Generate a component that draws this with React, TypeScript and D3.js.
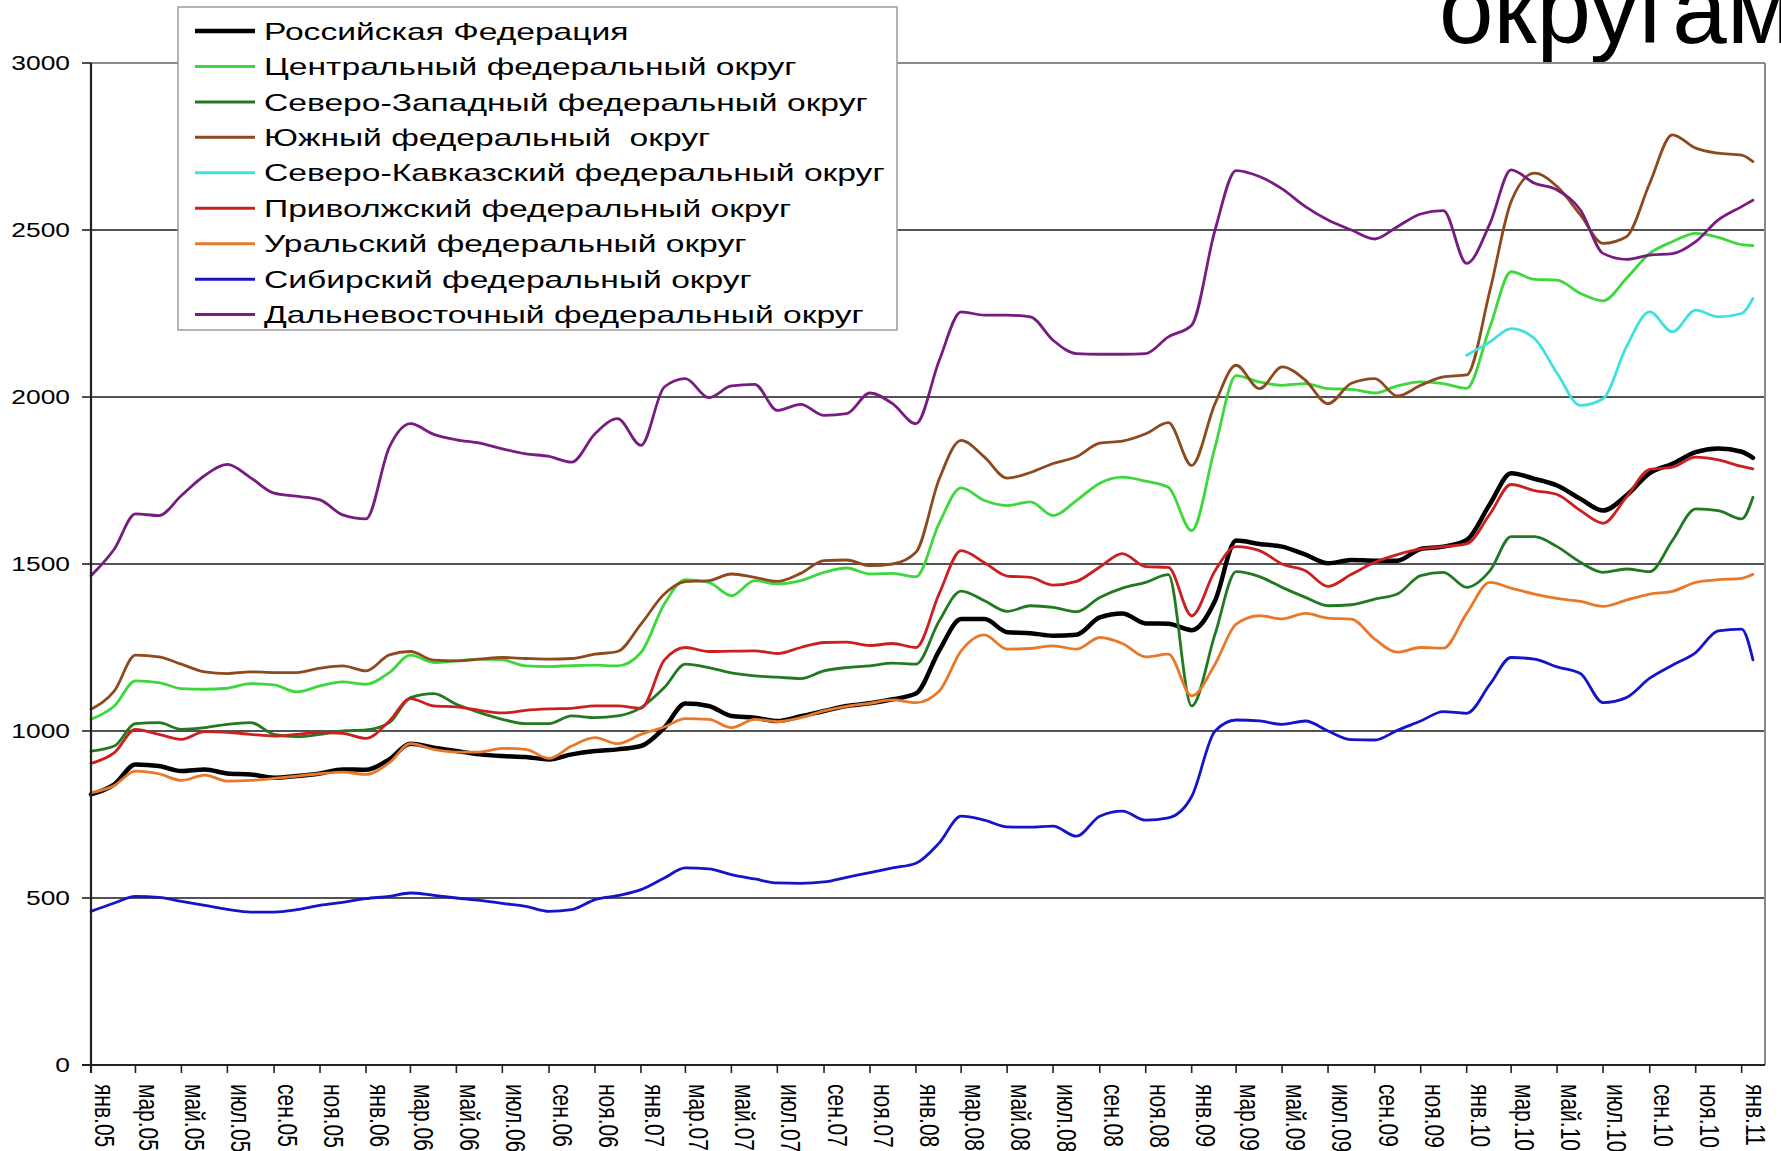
import React from 'react';
import * as d3 from 'd3';

// ---------- data ----------
const monthAbbr = ['янв', 'фев', 'мар', 'апр', 'май', 'июн', 'июл', 'авг', 'сен', 'окт', 'ноя', 'дек'];
const yTicks = [0, 500, 1000, 1500, 2000, 2500, 3000];
const titleText = 'округам';

const seriesNames = [
  'Российская Федерация',
  'Центральный федеральный округ',
  'Северо-Западный федеральный округ',
  'Южный федеральный  округ',
  'Северо-Кавказский федеральный округ',
  'Приволжский федеральный округ',
  'Уральский федеральный округ',
  'Сибирский федеральный округ',
  'Дальневосточный федеральный округ',
];
const seriesColors = ['#000000', '#3cd83c', '#217a21', '#8c4a1e', '#40e0e0', '#cc2020', '#e8782a', '#1414c8', '#771c80'];

// monthly values Jan 2005 ... Jan 2011 (73) + last observation mid-Jan 2011
const rf = [810, 840, 900, 895, 880, 885, 873, 870, 860, 865, 873, 885,
  884, 915, 962, 950, 940, 930, 925, 922, 915, 930, 940, 945,
  955, 1010, 1082, 1075, 1045, 1040, 1030, 1044, 1060, 1075, 1083, 1095,
  1112, 1241, 1335, 1335, 1296, 1293, 1285, 1288, 1340, 1352, 1322, 1321,
  1302, 1390, 1570, 1560, 1552, 1528, 1502, 1512, 1510, 1510, 1545, 1552,
  1572, 1680, 1772, 1755, 1735, 1695, 1660, 1705, 1772, 1800, 1835, 1846,
  1836, 1818];
const central = [1035, 1075, 1150, 1145, 1127, 1125, 1128, 1142, 1138, 1117, 1135, 1147,
  1140, 1175, 1227, 1205, 1210, 1215, 1213, 1195, 1193, 1196, 1197, 1195,
  1235, 1380, 1453, 1445, 1405, 1450, 1440, 1450, 1475, 1488, 1470, 1472,
  1462, 1623, 1728, 1690, 1675, 1686, 1645, 1690, 1742, 1760, 1748, 1730,
  1600, 1850, 2064, 2045, 2035, 2040, 2025, 2023, 2012, 2033, 2045, 2040,
  2026, 2210, 2375, 2352, 2350, 2310, 2288, 2355, 2430, 2465, 2490, 2478,
  2456, 2453];
const northWest = [940, 955, 1022, 1025, 1005, 1010, 1020, 1025, 990, 983, 990, 1000,
  1003, 1025, 1100, 1112, 1080, 1055, 1035, 1022, 1022, 1045, 1040, 1045,
  1070, 1130, 1200, 1190, 1174, 1165, 1161, 1157, 1180, 1190, 1195, 1203,
  1200, 1330, 1419, 1390, 1358, 1375, 1370, 1357, 1400, 1428, 1445, 1468,
  1075, 1290, 1477, 1462, 1430, 1400, 1375, 1378, 1395, 1410, 1465, 1475,
  1430, 1480, 1582, 1582, 1552, 1505, 1475, 1485, 1477, 1570, 1665, 1660,
  1635, 1700];
const south = [1065, 1120, 1227, 1222, 1200, 1177, 1172, 1177, 1175, 1175, 1188, 1195,
  1180, 1228, 1238, 1212, 1210, 1215, 1220, 1217, 1215, 1217, 1230, 1238,
  1320, 1410, 1447, 1450, 1470, 1460, 1448, 1472, 1510, 1512, 1495, 1500,
  1535, 1755, 1870, 1820, 1757, 1774, 1801, 1821, 1862, 1868, 1890, 1923,
  1795, 1980, 2095, 2025, 2090, 2050, 1980, 2041, 2055, 2003, 2035, 2060,
  2066, 2320, 2585, 2670, 2630, 2545, 2460, 2480, 2640, 2785, 2745, 2730,
  2724, 2705];
const northCaucasus: (number | null)[] = [null, null, null, null, null, null, null, null, null, null, null, null,
  null, null, null, null, null, null, null, null, null, null, null, null,
  null, null, null, null, null, null, null, null, null, null, null, null,
  null, null, null, null, null, null, null, null, null, null, null, null,
  null, null, null, null, null, null, null, null, null, null, null, null,
  2125, 2165, 2205, 2175, 2071, 1975, 1995, 2150, 2255, 2195, 2260, 2240,
  2250, 2295];
const volga = [903, 935, 1005, 990, 975, 998, 996, 990, 985, 990, 995, 993,
  978, 1030, 1097, 1075, 1072, 1062, 1054, 1062, 1066, 1068, 1075, 1075,
  1068, 1212, 1250, 1238, 1239, 1240, 1232, 1250, 1265, 1266, 1256, 1262,
  1250, 1412, 1540, 1504, 1464, 1460, 1437, 1448, 1491, 1531, 1492, 1490,
  1345, 1480, 1552, 1540, 1500, 1480, 1433, 1469, 1505, 1528, 1545, 1552,
  1560, 1650, 1738, 1720, 1708, 1660, 1622, 1700, 1783, 1790, 1820, 1812,
  1792, 1785];
const ural = [815, 837, 880, 872, 852, 868, 850, 852, 858, 865, 872, 877,
  870, 905, 962, 945, 937, 937, 948, 945, 918, 955, 980, 962,
  990, 1012, 1037, 1035, 1010, 1035, 1028, 1040, 1060, 1074, 1083, 1093,
  1085, 1120, 1240, 1288, 1245, 1247, 1255, 1245, 1280, 1262, 1222, 1230,
  1105, 1200, 1320, 1345, 1336, 1352, 1338, 1335, 1275, 1236, 1250, 1248,
  1352, 1445, 1428, 1410, 1397, 1388, 1373, 1392, 1410, 1418, 1445, 1453,
  1457, 1469];
const siberia = [460, 485, 505, 502, 490, 478, 466, 458, 458, 465, 478, 487,
  498, 505, 515, 508, 500, 493, 484, 475, 460, 465, 495, 507,
  525, 560, 590, 587, 570, 557, 545, 544, 548, 562, 576, 590,
  604, 665, 745, 733, 713, 712, 715, 685, 745, 760, 733, 740,
  804, 1000, 1033, 1030, 1020, 1030, 1000, 974, 973, 1002, 1030, 1058,
  1053, 1140, 1220, 1215, 1192, 1172, 1085, 1100, 1158, 1197, 1235, 1300,
  1305, 1213];
const farEast = [1465, 1545, 1650, 1645, 1705, 1765, 1798, 1758, 1712, 1703, 1692, 1647,
  1635, 1850, 1920, 1888, 1872, 1862, 1845, 1830, 1822, 1805, 1890, 1935,
  1855, 2030, 2055, 1998, 2033, 2038, 1960, 1978, 1945, 1950, 2012, 1980,
  1920, 2110, 2255, 2245, 2245, 2240, 2170, 2130, 2128, 2128, 2130, 2180,
  2215, 2500, 2678, 2660, 2623, 2570, 2530, 2500, 2473, 2510, 2548, 2558,
  2400, 2520, 2680, 2640, 2620, 2560, 2430, 2412, 2425, 2429, 2465, 2530,
  2570, 2589];

const seriesValues: (number | null)[][] = [rf, central, northWest, south, northCaucasus, volga, ural, siberia, farEast];

// ---------- component ----------
export default function App() {
  const W = 1781;
  const H = 1151;
  const left = 91;
  const right = 1765;
  const top = 63;
  const bottom = 1065;
  const font = "'Liberation Sans', Arial, sans-serif";
  const sx = 1.32; // horizontal stretch of the chart picture

  const x = d3.scaleTime().domain([new Date(2005, 0, 1), new Date(2011, 1, 1)]).range([left, right]);
  const y = d3.scaleLinear().domain([0, 3000]).range([bottom, top]);

  const dates: Date[] = d3.range(73).map((i) => new Date(2005, i, 1));
  dates.push(new Date(2011, 0, 16));

  const tickDates = d3.timeMonth.every(2)!.range(new Date(2005, 0, 1), new Date(2011, 1, 1));

  const line = d3
    .line<[Date, number | null]>()
    .defined((d) => d[1] != null)
    .x((d) => x(d[0]))
    .y((d) => y(d[1] as number))
    .curve(d3.curveMonotoneX);

  const fmt = (d: Date) => `${monthAbbr[d.getMonth()]}.${String(d.getFullYear() % 100).padStart(2, '0')}`;

  const legendX = 178;
  const legendY = 7;
  const legendW = 719;
  const legendH = 323;
  const rowH = 35.45;

  return (
    <svg width={W} height={H} style={{ position: 'absolute', left: 0, top: 0, background: '#fff' }} fontFamily={font}>
      <rect x={0} y={0} width={W} height={H} fill="#ffffff" />
      {/* title fragment */}
      <text x={1439} y={43} fontSize={98} fill="#000">{titleText}</text>

      {/* gridlines */}
      {yTicks.filter((v) => v > 0 && v < 3000).map((v) => (
        <line key={'g' + v} x1={left} x2={right} y1={y(v)} y2={y(v)} stroke="#1a1a1a" strokeWidth={1.4} />
      ))}
      {/* plot border top/right */}
      <line x1={left} x2={right} y1={y(3000)} y2={y(3000)} stroke="#8a8a8a" strokeWidth={2} />
      <line x1={right} x2={right} y1={y(3000)} y2={y(0)} stroke="#8a8a8a" strokeWidth={2} />

      {/* series */}
      {seriesValues.map((vals, k) => {
        const pts = dates.map((d, i) => [d, vals[i]] as [Date, number | null]);
        return (
          <path
            key={'s' + k}
            d={line(pts) || ''}
            fill="none"
            stroke={seriesColors[k]}
            strokeWidth={k === 0 ? 4.5 : 2.8}
            strokeLinejoin="round"
            strokeLinecap="round"
          />
        );
      })}

      {/* axes */}
      <line x1={left} x2={left} y1={y(3000)} y2={y(0) + 8} stroke="#222" strokeWidth={2.2} />
      <line x1={left - 9} x2={right} y1={y(0)} y2={y(0)} stroke="#222" strokeWidth={2} />
      {yTicks.map((v) => (
        <g key={'yt' + v}>
          <line x1={left - 9} x2={left} y1={y(v)} y2={y(v)} stroke="#222" strokeWidth={1.6} />
          <text
            transform={`translate(70,${y(v) + 7}) scale(${sx},1)`}
            textAnchor="end"
            fontSize={20}
            fill="#000"
          >
            {v}
          </text>
        </g>
      ))}
      {tickDates.map((d, i) => (
        <g key={'xt' + i}>
          <line x1={x(d)} x2={x(d)} y1={y(0)} y2={y(0) + 8} stroke="#222" strokeWidth={1.6} />
          <text
            transform={`translate(${x(d) + 4},1084) scale(${sx},1) rotate(90)`}
            fontSize={21}
            fill="#000"
          >
            {fmt(d)}
          </text>
        </g>
      ))}

      {/* legend */}
      <rect x={legendX} y={legendY} width={legendW} height={legendH} fill="#fff" stroke="#9a9a9a" strokeWidth={1.5} />
      {seriesNames.map((name, k) => {
        const cy = legendY + 24 + k * rowH;
        return (
          <g key={'l' + k}>
            <line x1={195} x2={255} y1={cy} y2={cy} stroke={seriesColors[k]} strokeWidth={k === 0 ? 4.5 : 3} />
            <text
              transform={`translate(264,${cy + 8.6}) scale(1.4,1)`}
              fontSize={24}
              fill="#000"
              style={{ whiteSpace: 'pre' }}
            >
              {name}
            </text>
          </g>
        );
      })}
    </svg>
  );
}
